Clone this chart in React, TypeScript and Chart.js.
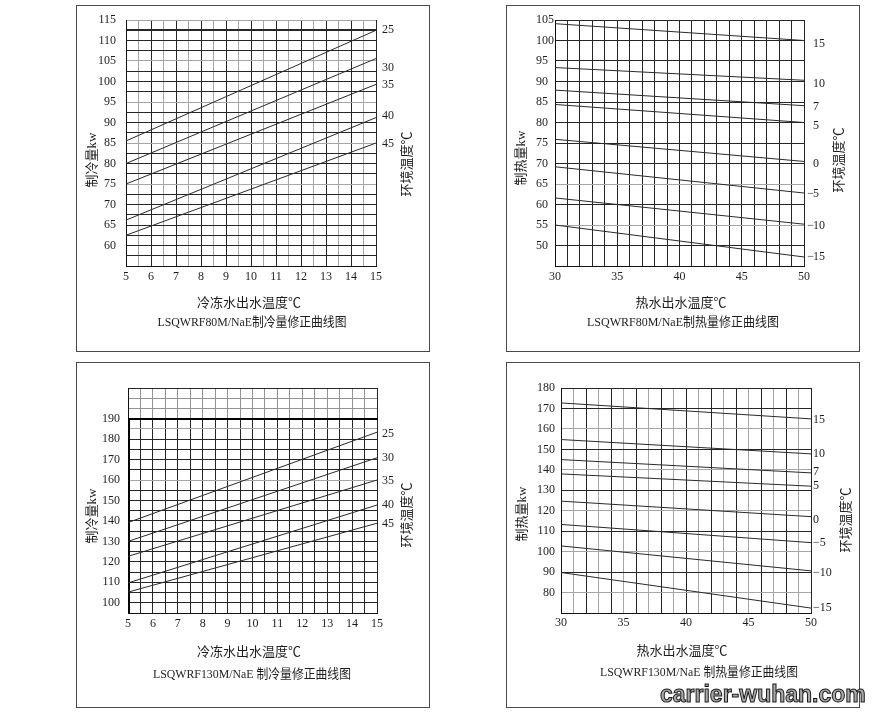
import React, { useEffect, useRef } from 'react';
import { Chart, registerables } from 'chart.js';

Chart.register(...registerables);

// ---------------- Data: LSQWRF80M/NaE cooling (制冷量) ----------------
const coolA_waterTemp = [5, 15];
const coolA_ambientNames = ['25', '30', '35', '40', '45'];
const coolA_amb25 = [85.5, 112.5];
const coolA_amb30 = [80, 105.6];
const coolA_amb35 = [75, 99.3];
const coolA_amb40 = [66.2, 91.2];
const coolA_amb45 = [62.5, 85];
const coolA_ambientLabelAt = [112.5, 103.4, 99.1, 91.6, 84.9];
const coolA_xTickLabels = [5, 6, 7, 8, 9, 10, 11, 12, 13, 14, 15];
const coolA_yTickLabels = [60, 65, 70, 75, 80, 85, 90, 95, 100, 105, 110, 115];

// ---------------- Data: LSQWRF80M/NaE heating (制热量) ----------------
const heatA_waterTemp = [30, 50];
const heatA_ambientNames = ['15', '10', '7', '5', '0', '-5', '-10', '-15'];
const heatA_amb15 = [104.1, 100];
const heatA_amb10 = [93.4, 90.3];
const heatA_amb7 = [87.9, 84.1];
const heatA_amb5 = [84.4, 80];
const heatA_amb0 = [75.9, 70.5];
const heatA_ambM5 = [69.2, 62.8];
const heatA_ambM10 = [61.6, 55.2];
const heatA_ambM15 = [55, 47.2];
const heatA_ambientLabelAt = [99.2, 89.5, 83.8, 79.1, 70, 62.5, 54.7, 47.2];
const heatA_xTickLabels = [30, 35, 40, 45, 50];
const heatA_yTickLabels = [50, 55, 60, 65, 70, 75, 80, 85, 90, 95, 100, 105];

// ---------------- Data: LSQWRF130M/NaE cooling (制冷量) ----------------
const coolB_waterTemp = [5, 15];
const coolB_ambientNames = ['25', '30', '35', '40', '45'];
const coolB_amb25 = [139.2, 183.4];
const coolB_amb30 = [130, 170.9];
const coolB_amb35 = [122.7, 160];
const coolB_amb40 = [109.7, 147.8];
const coolB_amb45 = [105.2, 138.9];
const coolB_ambientLabelAt = [182.7, 170.9, 159.7, 147.8, 138.4];
const coolB_xTickLabels = [5, 6, 7, 8, 9, 10, 11, 12, 13, 14, 15];
const coolB_yTickLabels = [100, 110, 120, 130, 140, 150, 160, 170, 180, 190];

// ---------------- Data: LSQWRF130M/NaE heating (制热量) ----------------
const heatB_waterTemp = [30, 50];
const heatB_ambientNames = ['15', '10', '7', '5', '0', '-5', '-10', '-15'];
const heatB_amb15 = [172.7, 164.9];
const heatB_amb10 = [154.8, 147.8];
const heatB_amb7 = [145, 138.5];
const heatB_amb5 = [138, 132];
const heatB_amb0 = [124.7, 117.1];
const heatB_ambM5 = [113.3, 104.4];
const heatB_ambM10 = [102.8, 90.6];
const heatB_ambM15 = [89.8, 72.4];
const heatB_ambientLabelAt = [164.2, 148, 138.9, 132.4, 115.3, 104.4, 89.8, 72.4];
const heatB_xTickLabels = [30, 35, 40, 45, 50];
const heatB_yTickLabels = [80, 90, 100, 110, 120, 130, 140, 150, 160, 170, 180];

// ---------------- Panel definitions (layout / style) ----------------
const DARK = '#262626';
const LIGHT = '#a6a6a6';
const TEXT = '#1e1e1e';
const TICK_FONT = { family: '"Liberation Serif", "DejaVu Serif", serif', size: 12 };
const TEXT_FONT = '13px "Liberation Serif", "Noto Sans CJK SC", serif';

type PanelDef = {
  box: [number, number, number, number];
  area: { left: number; right: number; top: number; bottom: number };
  xMin: number; xMax: number; xStep: number;
  yMin: number; yMax: number; yStep: number;
  xTickLabels: number[]; yTickLabels: number[];
  xValues: number[]; series: number[][];
  ambientNames: string[]; ambientLabelAt: number[];
  yCross: 'near' | 'far'; yPad: number; padLeft: number; xPad: number;
  xTitle: string; xTitlePos: [number, number];
  caption: string; captionPos: [number, number]; captionWidth: number;
  yTitle: string; yTitlePos: [number, number];
  rTitle: string; rTitlePos: [number, number];
  rGap: number; hangMinus: boolean;
  xGrid: (v: number) => string; yGrid: (v: number) => string;
  thickY?: number; frameTop?: number;
};

const panels: PanelDef[] = [
  {
    box: [76, 5, 354, 347],
    area: { left: 49, right: 299, top: 14, bottom: 260 },
    xMin: 5, xMax: 15, xStep: 0.5, yMin: 55, yMax: 115, yStep: 2.5,
    xTickLabels: coolA_xTickLabels, yTickLabels: coolA_yTickLabels,
    xValues: coolA_waterTemp,
    series: [coolA_amb25, coolA_amb30, coolA_amb35, coolA_amb40, coolA_amb45],
    ambientNames: coolA_ambientNames, ambientLabelAt: coolA_ambientLabelAt,
    yCross: 'near', yPad: 10, padLeft: 0, xPad: 4,
    xTitle: '冷冻水出水温度℃', xTitlePos: [172, 298],
    caption: 'LSQWRF80M/NaE制冷量修正曲线图', captionPos: [175, 317], captionWidth: 189,
    yTitle: '制冷量kw', yTitlePos: [16, 154],
    rTitle: '环境温度℃', rTitlePos: [331, 158],
    rGap: 6, hangMinus: false,
    xGrid: (v) => (Number.isInteger(v) ? DARK : LIGHT),
    yGrid: (v) => (v % 10 === 5 && v >= 75 ? LIGHT : DARK),
    thickY: 112.5,
  },
  {
    box: [506, 5, 354, 347],
    area: { left: 48, right: 297, top: 14, bottom: 260 },
    xMin: 30, xMax: 50, xStep: 1, yMin: 45, yMax: 105, yStep: 5,
    xTickLabels: heatA_xTickLabels, yTickLabels: heatA_yTickLabels,
    xValues: heatA_waterTemp,
    series: [heatA_amb15, heatA_amb10, heatA_amb7, heatA_amb5, heatA_amb0, heatA_ambM5, heatA_ambM10, heatA_ambM15],
    ambientNames: heatA_ambientNames, ambientLabelAt: heatA_ambientLabelAt,
    yCross: 'far', yPad: 0, padLeft: 29, xPad: 4,
    xTitle: '热水出水温度℃', xTitlePos: [174, 298],
    caption: 'LSQWRF80M/NaE制热量修正曲线图', captionPos: [176, 317], captionWidth: 192,
    yTitle: '制热量kw', yTitlePos: [15, 152],
    rTitle: '环境温度℃', rTitlePos: [333, 154],
    rGap: 9, hangMinus: true,
    xGrid: () => DARK,
    yGrid: (v) => (v === 55 || v === 65 ? LIGHT : DARK),
  },
  {
    box: [76, 362, 354, 346],
    area: { left: 51, right: 300, top: 25, bottom: 250 },
    xMin: 5, xMax: 15, xStep: 0.5, yMin: 95, yMax: 205, yStep: 5,
    xTickLabels: coolB_xTickLabels, yTickLabels: coolB_yTickLabels,
    xValues: coolB_waterTemp,
    series: [coolB_amb25, coolB_amb30, coolB_amb35, coolB_amb40, coolB_amb45],
    ambientNames: coolB_ambientNames, ambientLabelAt: coolB_ambientLabelAt,
    yCross: 'near', yPad: 8, padLeft: 0, xPad: 4,
    xTitle: '冷冻水出水温度℃', xTitlePos: [172, 290],
    caption: 'LSQWRF130M/NaE 制冷量修正曲线图', captionPos: [175, 312], captionWidth: 198,
    yTitle: '制冷量kw', yTitlePos: [16, 153],
    rTitle: '环境温度℃', rTitlePos: [331, 152],
    rGap: 5, hangMinus: false,
    xGrid: () => DARK,
    yGrid: (v) => (v === 185 || v === 160 ? LIGHT : DARK),
    frameTop: 190,
  },
  {
    box: [506, 362, 354, 346],
    area: { left: 54, right: 304, top: 25, bottom: 250 },
    xMin: 30, xMax: 50, xStep: 1, yMin: 70, yMax: 180, yStep: 10,
    xTickLabels: heatB_xTickLabels, yTickLabels: heatB_yTickLabels,
    xValues: heatB_waterTemp,
    series: [heatB_amb15, heatB_amb10, heatB_amb7, heatB_amb5, heatB_amb0, heatB_ambM5, heatB_ambM10, heatB_ambM15],
    ambientNames: heatB_ambientNames, ambientLabelAt: heatB_ambientLabelAt,
    yCross: 'near', yPad: 6, padLeft: 0, xPad: 3,
    xTitle: '热水出水温度℃', xTitlePos: [175, 289],
    caption: 'LSQWRF130M/NaE 制热量修正曲线图', captionPos: [192, 310], captionWidth: 198,
    yTitle: '制热量kw', yTitlePos: [16, 151],
    rTitle: '环境温度℃', rTitlePos: [340, 157],
    rGap: 2, hangMinus: false,
    xGrid: (v) => (v % 2 === 1 && v !== 30 && v !== 50 ? LIGHT : DARK),
    yGrid: (v) => (v % 20 === 0 && v !== 180 ? LIGHT : DARK),
  },
];

function makeDecor(d: PanelDef) {
  return {
    id: 'decor',
    beforeDatasetsDraw(chart: any) {
      if (d.frameTop == null) return;
      const { left, right, top, bottom } = chart.chartArea;
      const yF = Math.round(chart.scales.y.getPixelForValue(d.frameTop));
      const ctx = chart.ctx;
      ctx.save();
      ctx.fillStyle = 'rgba(255,255,255,0.5)';
      ctx.fillRect(left + 1, top + 1, right - left - 1, yF - top - 1);
      ctx.strokeStyle = '#000';
      ctx.lineWidth = 2;
      ctx.beginPath();
      ctx.moveTo(left, yF);
      ctx.lineTo(right + 1, yF);
      ctx.moveTo(left + 1, yF);
      ctx.lineTo(left + 1, bottom);
      ctx.stroke();
      ctx.restore();
    },
    afterDraw(chart: any) {
      const ctx = chart.ctx;
      const ys = chart.scales.y;
      ctx.save();
      ctx.fillStyle = TEXT;
      ctx.textBaseline = 'middle';
      ctx.font = TEXT_FONT;
      ctx.textAlign = 'center';
      ctx.fillText(d.xTitle, d.xTitlePos[0], d.xTitlePos[1]);
      ctx.fillText(d.caption, d.captionPos[0], d.captionPos[1], d.captionWidth);
      for (const [txt, pos] of [[d.yTitle, d.yTitlePos], [d.rTitle, d.rTitlePos]] as [string, [number, number]][]) {
        ctx.save();
        ctx.translate(pos[0], pos[1]);
        ctx.rotate(-Math.PI / 2);
        ctx.fillText(txt, 0, 0);
        ctx.restore();
      }
      ctx.font = `${TICK_FONT.size}px ${TICK_FONT.family}`;
      const x0 = chart.chartArea.right + d.rGap;
      d.ambientNames.forEach((name, i) => {
        const y = ys.getPixelForValue(d.ambientLabelAt[i]);
        const neg = name.startsWith('-');
        if (neg && d.hangMinus) {
          ctx.textAlign = 'right';
          ctx.fillText('−', x0 + 1, y);
          ctx.textAlign = 'left';
          ctx.fillText(name.slice(1), x0, y);
        } else {
          ctx.textAlign = 'left';
          ctx.fillText(neg ? '−' + name.slice(1) : name, x0, y);
        }
      });
      ctx.restore();
    },
  };
}

function zeroPadding(s: any) {
  s.paddingTop = 0;
  s.paddingBottom = 0;
  s.paddingLeft = 0;
  s.paddingRight = 0;
}

function Panel({ d }: { d: PanelDef }) {
  const ref = useRef<HTMLCanvasElement>(null);
  const cw = d.box[2] - 2;
  const ch = d.box[3] - 2;
  useEffect(() => {
    const canvas = ref.current;
    if (!canvas) return;
    const xH = 20;
    const chart = new Chart(canvas, {
      type: 'line',
      data: {
        datasets: d.series.map((vals, si) => ({
          label: d.ambientNames[si],
          data: d.xValues.map((x, i) => ({ x, y: vals[i] })),
          borderColor: '#2a2a2a',
          borderWidth: 1,
          pointRadius: 0,
          fill: false,
          tension: 0,
        })),
      },
      options: {
        animation: false,
        responsive: false,
        events: [],
        layout: {
          padding: {
            left: d.padLeft,
            right: cw - d.area.right,
            top: d.area.top,
            bottom: ch - d.area.bottom - xH,
          },
        },
        plugins: { legend: { display: false }, tooltip: { enabled: false }, title: { display: false } },
        scales: {
          x: {
            type: 'linear',
            min: d.xMin,
            max: d.xMax,
            afterFit: (s: any) => { s.height = xH; zeroPadding(s); },
            ticks: {
              stepSize: d.xStep,
              autoSkip: false,
              maxRotation: 0,
              padding: d.xPad,
              color: TEXT,
              font: TICK_FONT,
              callback: (v: any) => (d.xTickLabels.includes(Number(v)) ? String(v) : ''),
            },
            grid: {
              drawTicks: false,
              color: (c: any) => d.xGrid(c.tick ? c.tick.value : 0),
              lineWidth: 1,
            },
            border: { color: '#111', width: 1 },
          },
          y: {
            type: 'linear',
            position: 'left',
            min: d.yMin,
            max: d.yMax,
            afterFit: (s: any) => { s.width = d.area.left - d.padLeft; zeroPadding(s); },
            ticks: {
              stepSize: d.yStep,
              autoSkip: false,
              padding: d.yPad,
              crossAlign: d.yCross,
              color: TEXT,
              font: TICK_FONT,
              callback: (v: any) => (d.yTickLabels.includes(Number(v)) ? String(v) : ''),
            },
            grid: {
              drawTicks: false,
              color: (c: any) => d.yGrid(c.tick ? c.tick.value : 0),
              lineWidth: (c: any) => (d.thickY != null && c.tick && c.tick.value === d.thickY ? 2 : 1),
            },
            border: { color: '#111', width: 1 },
          },
        },
      },
      plugins: [makeDecor(d)],
    } as any);
    return () => chart.destroy();
  }, [d]);
  return (
    <div
      style={{
        position: 'absolute',
        left: d.box[0],
        top: d.box[1],
        width: d.box[2],
        height: d.box[3],
        boxSizing: 'border-box',
        border: '1px solid #4a4a4a',
        background: '#fff',
      }}
    >
      <canvas ref={ref} width={cw} height={ch} style={{ position: 'absolute', left: 0, top: 0, width: cw, height: ch }} />
    </div>
  );
}

export default function App() {
  return (
    <div style={{ position: 'absolute', left: 0, top: 0, width: 875, height: 716, background: '#fff', overflow: 'hidden' }}>
      {panels.map((d, i) => (
        <Panel key={i} d={d} />
      ))}
      <div
        style={{
          position: 'absolute',
          left: 660,
          top: 683,
          font: 'bold 23px "Liberation Sans", Arial, sans-serif',
          lineHeight: '23px',
          color: '#a9a9a9',
          WebkitTextStroke: '1px #1a1a1a',
          whiteSpace: 'nowrap',
        }}
      >
        carrier-wuhan.com
      </div>
    </div>
  );
}
